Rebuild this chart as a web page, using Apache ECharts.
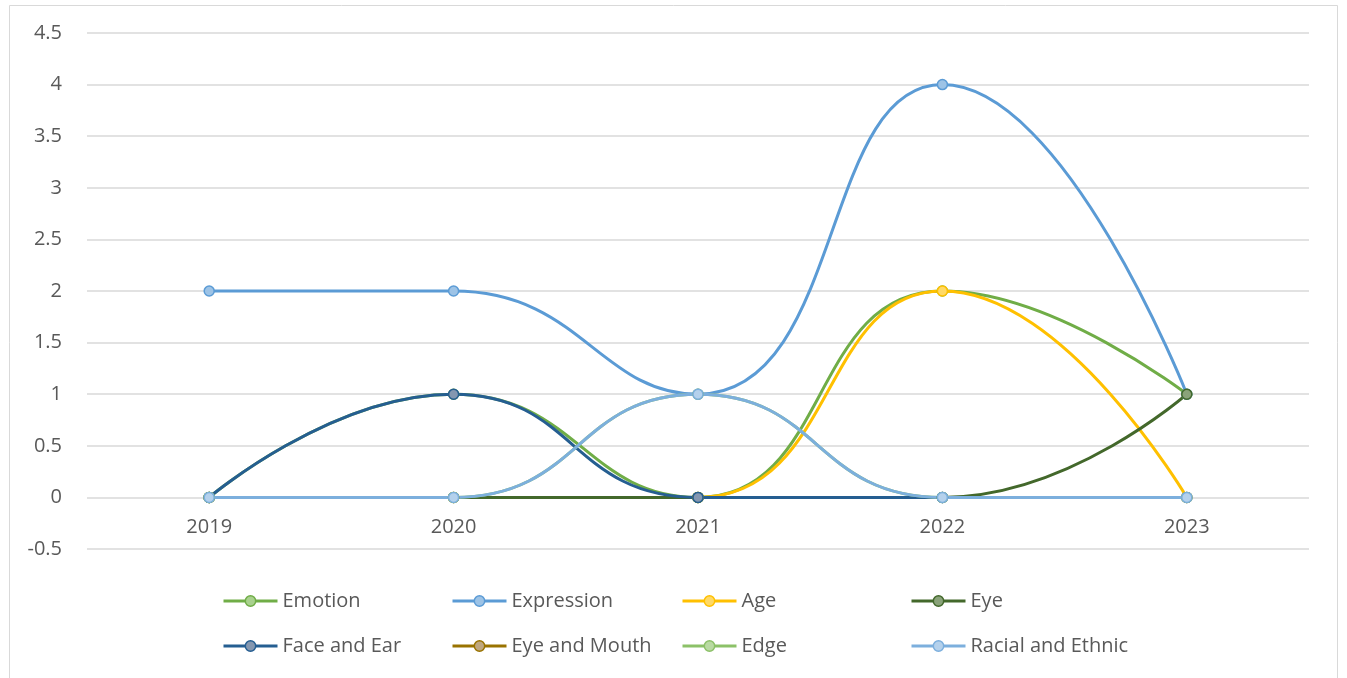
<!DOCTYPE html>
<html lang="en">
<head>
    <meta charset="UTF-8">
    <title>Topics per year</title>
    <script src="https://cdn.jsdelivr.net/npm/echarts@6/dist/echarts.min.js"></script>
    <style>
        * { margin: 0; padding: 0; }
        body { background: #fff; }
        #chart-container { width: 1347px; height: 678px; }
    </style>
</head>
<body>
    <div id="chart-container"></div>
    <script>
        const years = ['2019', '2020', '2021', '2022', '2023'];

        const emotion = [0, 1, 0, 2, 1];
        const expression = [2, 2, 1, 4, 1];
        const age = [0, 0, 0, 2, 0];
        const eye = [0, 0, 0, 0, 1];
        const faceAndEar = [0, 1, 0, 0, 0];
        const eyeAndMouth = [null, null, null, null, null];
        const edge = [0, 0, 1, 0, 0];
        const racialAndEthnic = [0, 0, 1, 0, 0];

        const seriesList = [
            { name: 'Emotion', data: emotion, line: '#70AD47', fill: '#A9D18E' },
            { name: 'Expression', data: expression, line: '#5B9BD5', fill: '#9DC3E6' },
            { name: 'Age', data: age, line: '#FFC000', fill: '#FFD966' },
            { name: 'Eye', data: eye, line: '#43682B', fill: '#8AA37A' },
            { name: 'Face and Ear', data: faceAndEar, line: '#255E91', fill: '#8497B0' },
            { name: 'Eye and Mouth', data: eyeAndMouth, line: '#997300', fill: '#BFA77F' },
            { name: 'Edge', data: edge, line: '#8CC168', fill: '#B9DAA2' },
            { name: 'Racial and Ethnic', data: racialAndEthnic, line: '#7CAFDD', fill: '#B4D1EC' }
        ];

        // legend slots, 4 columns x 2 rows like the Excel legend
        const legendCols = [222, 451, 681, 910];
        const legendRows = [591, 636];

        const chart = echarts.init(document.getElementById('chart-container'), null, { renderer: 'canvas' });

        const font = '"Open Sans", Lato, sans-serif';

        const option = {
            backgroundColor: '#fff',
            animation: false,
            textStyle: { fontFamily: font },
            graphic: [{
                type: 'rect',
                shape: { x: 9.5, y: 5.5, width: 1328, height: 690 },
                style: { fill: 'none', stroke: '#D9D9D9', lineWidth: 1 },
                silent: true
            }],
            grid: { left: 87, right: 38, top: 33, bottom: 129 },
            legend: seriesList.map((s, i) => ({
                left: legendCols[i % 4],
                top: legendRows[Math.floor(i / 4)],
                padding: 0,
                itemWidth: 54,
                itemHeight: 13,
                lineStyle: { width: 3 },
                itemStyle: { borderWidth: 1.5 },
                textStyle: { color: '#595959', fontSize: 20, fontFamily: font },
                data: [s.name]
            })),
            xAxis: {
                type: 'category',
                data: years,
                boundaryGap: true,
                offset: -52,
                axisLine: { show: false },
                axisTick: { show: false },
                axisLabel: { color: '#595959', fontSize: 20, margin: 20 }
            },
            yAxis: {
                type: 'value',
                min: -0.5,
                max: 4.5,
                interval: 0.5,
                axisLine: { show: false },
                axisTick: { show: false },
                axisLabel: { color: '#595959', fontSize: 20, margin: 25 },
                splitLine: { lineStyle: { color: '#D9D9D9', width: 1.5 } }
            },
            series: seriesList.map(s => ({
                name: s.name,
                type: 'line',
                smooth: 0.5,
                data: s.data,
                symbol: 'circle',
                symbolSize: 10,
                showSymbol: true,
                lineStyle: { color: s.line, width: 3 },
                itemStyle: { color: s.fill, borderColor: s.line, borderWidth: 1.5 }
            }))
        };

        chart.setOption(option);
        window.addEventListener('resize', chart.resize);
    </script>
</body>
</html>
